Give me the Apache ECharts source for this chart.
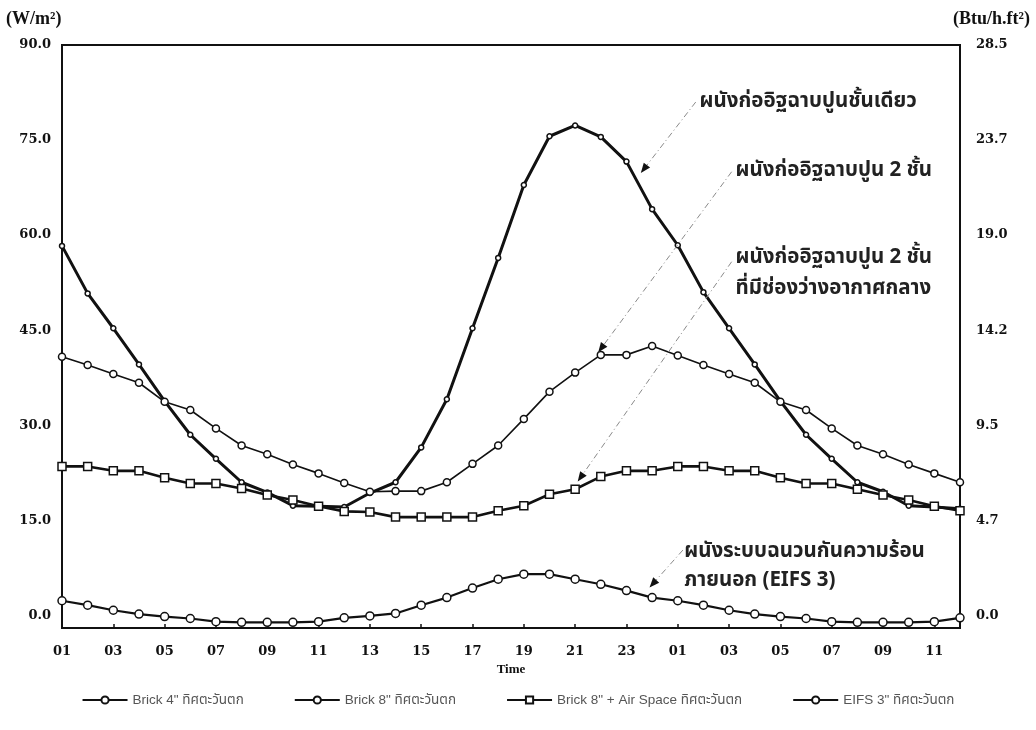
<!DOCTYPE html>
<html>
<head>
<meta charset="utf-8">
<script src="https://cdn.jsdelivr.net/npm/echarts@6/dist/echarts.min.js"></script>
<style>
html,body{margin:0;padding:0;background:#fff;}
#chart{width:1036px;height:730px;}
</style>
</head>
<body>
<div id="chart"></div>
<script>
// ---- data ----
const hours = ["01","02","03","04","05","06","07","08","09","10","11","12",
               "13","14","15","16","17","18","19","20","21","22","23","24",
               "01","02","03","04","05","06","07","08","09","10","11","12"];
const xTickLabels = ["01","03","05","07","09","11","13","15","17","19","21","23","01","03","05","07","09","11"];
const leftTickLabels = ["0.0","15.0","30.0","45.0","60.0","75.0","90.0"];
const rightTickLabels = ["0.0","4.7","9.5","14.2","19.0","23.7","28.5"];
const leftTickValues = [0,15,30,45,60,75,90];

const seriesNames = ["Brick 4\" ทิศตะวันตก","Brick 8\" ทิศตะวันตก","Brick 8\" + Air Space ทิศตะวันตก","EIFS 3\" ทิศตะวันตก"];
const brick4 = [58.3,50.8,45.3,39.6,33.8,28.5,24.7,21.0,19.4,17.3,17.2,17.1,
                19.3,21.0,26.5,34.1,45.3,56.4,67.9,75.6,77.3,75.5,71.6,64.1,
                58.4,51.0,45.3,39.6,33.8,28.5,24.7,21.0,19.5,17.3,17.1,16.8];
const brick8 = [40.8,39.5,38.1,36.7,33.7,32.4,29.5,26.8,25.4,23.8,22.4,20.9,
                19.5,19.6,19.6,21.0,23.9,26.8,31.0,35.3,38.3,41.1,41.1,42.5,
                41.0,39.5,38.1,36.7,33.7,32.4,29.5,26.8,25.4,23.8,22.4,21.0];
const brick8Air = [23.5,23.5,22.8,22.8,21.7,20.8,20.8,20.0,19.0,18.2,17.2,16.4,
                   16.3,15.5,15.5,15.5,15.5,16.5,17.3,19.1,19.9,21.9,22.8,22.8,
                   23.5,23.5,22.8,22.8,21.7,20.8,20.8,19.9,19.0,18.2,17.2,16.5];
const eifs3 = [2.3,1.6,0.8,0.2,-0.2,-0.5,-1.0,-1.1,-1.1,-1.1,-1.0,-0.4,
               -0.1,0.3,1.6,2.8,4.3,5.7,6.5,6.5,5.7,4.9,3.9,2.8,
               2.3,1.6,0.8,0.2,-0.2,-0.5,-1.0,-1.1,-1.1,-1.1,-1.0,-0.4];

const annotationTexts = [
  ["ผนังก่ออิฐฉาบปูนชั้นเดียว"],
  ["ผนังก่ออิฐฉาบปูน 2 ชั้น"],
  ["ผนังก่ออิฐฉาบปูน 2 ชั้น","ที่มีช่องว่างอากาศกลาง"],
  ["ผนังระบบฉนวนกันความร้อน","ภายนอก (EIFS 3)"]
];
// annotation anchors in data units (x index, W/m2): text start, arrow start, arrow tip
const annoTextAt = [[24.85,80.8],[26.25,70.0],[26.25,56.3],[24.25,9.9]];
const annoLineGap = [0,0,5.0,4.6];
const annoArrowFrom = [[24.7,81.0],[26.1,70.0],[26.1,55.8],[24.2,10.3]];
const annoArrowTo = [[22.56,69.8],[20.9,41.5],[20.1,21.1],[22.9,4.4]];

// ---- chart ----
const toXY = arr => arr.map((v,i)=>[i,v]);
const thaiFont = "'Noto Sans Thai','Loma','Garuda','Tlwg Typo','Waree','Noto Sans',sans-serif";
const serif = "'DejaVu Serif','Liberation Serif',serif";

const chart = echarts.init(document.getElementById('chart'));

const styles = [
  {lw:3, sym:'circle', size:5},
  {lw:1.6, sym:'circle', size:7},
  {lw:2.6, sym:'rect', size:8},
  {lw:2.2, sym:'circle', size:8}
];
const datasets = [brick4, brick8, brick8Air, eifs3];

const series = datasets.map((d,k)=>({
  name: seriesNames[k],
  type:'line',
  data: toXY(d),
  symbol: styles[k].sym,
  symbolSize: styles[k].size,
  showAllSymbol:true,
  lineStyle:{color:'#111', width:styles[k].lw},
  itemStyle:{color:'#fff', borderColor:'#111', borderWidth:1.5},
  z: 3+k,
  animation:false
}));

series.push({
  type:'line', name:'_anno', data:[], silent:true,
  markLine:{
    silent:true, animation:false,
    symbol:['none','none'],
    label:{show:false},
    lineStyle:{color:'#8a8a8a', width:1, type:[6,3,1,3]},
    data: annoArrowFrom.map((f,i)=>[{coord:f},{coord:annoArrowTo[i]}])
  }
});

chart.setOption({
  backgroundColor:'#fff',
  animation:false,
  grid:{left:62, right:76, top:45, bottom:102, show:true, borderColor:'#111', borderWidth:2},
  legend:{
    data: seriesNames,
    bottom: 18, left:'center',
    itemWidth:45, itemHeight:9, itemGap:50,
    textStyle:{fontFamily:"'Liberation Sans',"+thaiFont, fontSize:13.5, color:'#555'}
  },
  xAxis:{
    type:'value', min:0, max:hours.length-1,
    name:'Time', nameLocation:'middle', nameGap:33,
    nameTextStyle:{fontFamily:"'Liberation Serif',serif", fontWeight:'bold', fontSize:13, color:'#111'},
    axisLine:{show:true, onZero:false, lineStyle:{color:'#111', width:2}},
    axisTick:{show:true, inside:true, length:4, customValues: xTickLabels.map((_,i)=>i*2), lineStyle:{color:'#111', width:1.5}},
    axisLabel:{customValues: xTickLabels.map((_,i)=>i*2), formatter: v => xTickLabels[Math.round(v/2)],
               fontFamily:serif, fontWeight:'bold', fontSize:13, color:'#111', margin:17},
    splitLine:{show:false}
  },
  yAxis:[{
    type:'value', min:-2, max:90, position:'left',
    axisLine:{show:true, onZero:false, lineStyle:{color:'#111', width:2}},
    axisTick:{show:false},
    axisLabel:{customValues:leftTickValues, formatter: v => leftTickLabels[Math.round(v/15)],
               fontFamily:serif, fontWeight:'bold', fontSize:13, color:'#111', margin:11},
    splitLine:{show:false}
  },{
    type:'value', min:-2, max:90, position:'right',
    axisLine:{show:true, onZero:false, lineStyle:{color:'#111', width:2}},
    axisTick:{show:false},
    axisLabel:{customValues:leftTickValues, formatter: v => rightTickLabels[Math.round(v/15)],
               fontFamily:serif, fontWeight:'bold', fontSize:13, color:'#111', margin:16},
    splitLine:{show:false}
  }],
  series: series
});

// axis unit titles, annotation texts and arrowheads
const graphics = [
  {type:'text', left:6, top:10, style:{text:'(W/m²)', font:"bold 18px 'Liberation Serif',serif", fill:'#111'}},
  {type:'text', right:6, top:10, style:{text:'(Btu/h.ft²)', font:"bold 18px 'Liberation Serif',serif", fill:'#111'}}
];
annotationTexts.forEach((lines,i)=>{
  lines.forEach((t,j)=>{
    const p = chart.convertToPixel({gridIndex:0},[annoTextAt[i][0], annoTextAt[i][1]-j*annoLineGap[i]]);
    graphics.push({type:'text', x:p[0], y:p[1], style:{text:t, font:"bold 20.5px "+thaiFont, fill:'#222', textVerticalAlign:'middle', textAlign:'left'}});
  });
});
annoArrowTo.forEach((tip,i)=>{
  const a = chart.convertToPixel({gridIndex:0}, annoArrowFrom[i]);
  const b = chart.convertToPixel({gridIndex:0}, tip);
  const dx = b[0]-a[0], dy = b[1]-a[1], L = Math.hypot(dx,dy);
  const ux = dx/L, uy = dy/L, nx = -uy, ny = ux;
  const len = 10, half = 4;
  const bx = b[0]-ux*len, by = b[1]-uy*len;
  graphics.push({type:'polygon', shape:{points:[[b[0],b[1]],[bx+nx*half,by+ny*half],[bx-nx*half,by-ny*half]]},
                 style:{fill:'#111'}, z:10});
});
chart.setOption({graphic:graphics});
</script>
</body>
</html>
